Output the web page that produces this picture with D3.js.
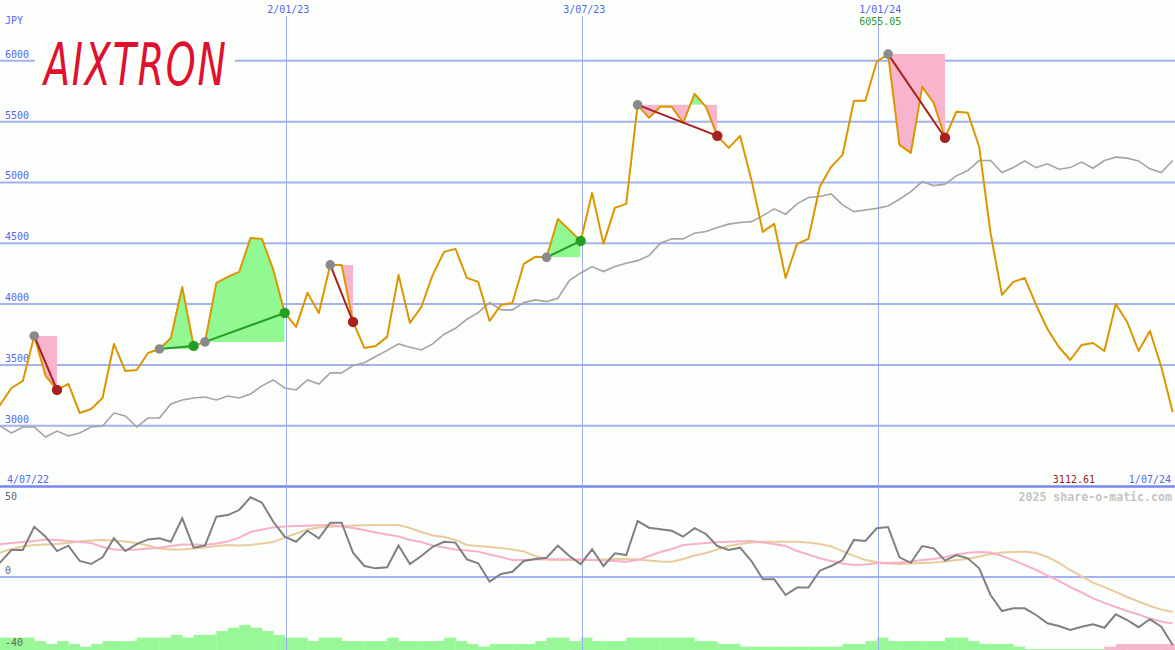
<!DOCTYPE html>
<html><head><meta charset="utf-8">
<script src="https://cdn.jsdelivr.net/npm/d3@7"></script>
<style>html,body{margin:0;padding:0;background:#fcfefc;}svg{display:block}</style>
</head><body><svg id="c" width="1175" height="650"></svg>
<script>
// ---------- data ----------
const firstWeek = "2022-07-03";
const price = [3047,3170,3310,3368,3738,3409,3294,3343,3104,3137,
  3228,3672,3450,3458,3598,3631,3721,4141,3656,3689,
  4174,4223,4264,4544,4536,4281,3927,3812,4092,3927,
  4322,4322,3853,3639,3656,3730,4240,3845,3976,4240,
  4429,4454,4215,4182,3861,3993,4009,4330,4388,4384,
  4700,4610,4519,4914,4495,4791,4824,5638,5531,5622,
  5622,5490,5729,5622,5383,5284,5383,5021,4593,4659,
  4215,4495,4536,4964,5128,5227,5671,5671,5992,6055.05,
  5309,5243,5786,5655,5367,5581,5572,5293,4585,4075,
  4182,4215,3993,3795,3647,3540,3664,3680,3614,4001,
  3853,3614,3779,3483,3112.61];
const movingAvg = [3014,2998,2940,2989,2989,2907,2956,2915,2940,2989,
  2998,3104,3080,2989,3063,3063,3179,3211,3228,3236,
  3211,3244,3228,3261,3327,3376,3310,3294,3376,3343,
  3434,3434,3495,3518,3569,3619,3672,3645,3623,3672,
  3752,3801,3875,3930,4012,3952,3952,4012,4034,4020,
  4048,4193,4256,4308,4267,4308,4336,4357,4398,4500,
  4536,4536,4583,4596,4629,4657,4670,4678,4727,4783,
  4739,4824,4876,4884,4906,4815,4760,4774,4787,4807,
  4862,4925,5007,4974,4986,5054,5098,5180,5180,5081,
  5122,5177,5122,5153,5109,5122,5167,5117,5180,5208,
  5200,5177,5112,5081,5180];
const oscillator = [4,8.0,15.0,15.0,27.9,22.4,14.4,17.4,8.9,7.2,
  10.9,21.5,14.4,18.3,20.9,21.5,19.6,32.6,16.3,17.4,
  33.5,34.4,37.2,44.3,41.3,30.7,22.4,19.6,25.7,21.5,
  30.2,30.2,13.5,6.1,4.8,5.4,17.5,7.2,11.7,16.8,
  19.6,19.1,9.8,7.6,-2.6,1.7,2.9,8.9,10.0,10.7,
  17.4,11.7,7.2,15.4,6.1,13.2,12.2,31.1,27.4,26.5,
  25.7,22.4,27.1,23.9,17.2,15.0,16.3,8.9,-1.3,-1.3,
  -10.0,-5.9,-5.9,3.5,6.1,9.4,20.6,20.0,27.1,27.8,
  10.9,7.9,17.2,15.9,9.1,12.2,10.4,4.8,-10.0,-18.9,
  -17.4,-17.4,-21.1,-25.7,-27.2,-29.4,-27.6,-26.3,-28.2,-20.7,
  -23.9,-27.9,-23.5,-27.6,-37.8];
const oscFast = [17.8,18.2,18.9,19.4,20.0,20.8,20.6,20.0,19.4,18.9,
  16.7,15.3,15.0,15.3,15.8,16.3,17.2,18.1,18.1,17.8,
  18.6,19.7,21.9,25.0,26.4,27.5,28.1,28.3,28.5,28.7,
  28.9,28.1,27.2,26.1,24.7,23.6,22.5,20.6,19.4,17.5,
  16.4,15.3,14.7,14.1,12.5,11.1,9.4,9.4,9.7,9.8,
  9.8,9.8,9.8,9.4,9.2,8.9,8.5,9.4,11.7,13.9,
  15.6,17.8,18.3,18.9,19.3,19.6,19.8,20.0,19.2,18.3,
  17.2,14.4,12.5,10.4,8.9,7.5,6.7,6.9,7.6,7.8,
  8.0,8.6,9.4,10.0,11.1,12.5,13.5,13.9,13.6,11.7,
  9.2,6.7,3.9,0.8,-2.2,-5.6,-8.6,-11.9,-14.4,-16.7,
  -18.9,-20.8,-23.1,-24.7,-25.8];
const oscSlow = [11.7,13.5,15.6,17.0,17.8,18.1,18.3,18.9,19.7,20.3,
  20.6,20.3,19.7,18.9,17.5,15.8,15.3,15.3,15.8,16.4,
  17.2,17.8,17.5,17.8,18.6,19.4,21.9,24.2,26.4,27.5,
  27.9,28.3,28.6,28.8,28.9,28.9,28.9,27.2,25.0,23.1,
  22.2,20.6,17.8,17.2,16.7,16.1,15.3,14.2,11.7,9.7,
  9.4,9.4,9.4,9.4,9.7,10.0,10.0,9.7,9.2,8.6,
  8.5,10.0,11.9,13.3,15.3,17.2,18.3,19.2,19.6,19.6,
  19.6,19.6,19.2,18.3,17.0,14.4,11.7,9.4,8.3,7.5,
  7.2,7.5,7.8,8.1,8.6,9.4,10.0,11.4,12.8,13.6,
  13.9,14.1,13.3,11.1,7.8,3.9,0.3,-3.1,-5.6,-8.3,
  -11.1,-13.6,-16.1,-18.1,-19.4];
const trendBars = [4.4,6.3,6.3,6.3,4.4,2.8,4.4,2.8,1.3,2.8,
  4.4,4.4,4.4,6.3,6.3,6.3,7.8,6.3,7.8,7.8,
  10,11.8,13.3,11.8,10,7.8,6.3,6.3,4.4,6.3,
  6.3,4.4,4.4,4.4,4.4,6.3,4.4,4.4,4.4,4.4,
  6.3,4.4,2.8,1.3,2.8,2.8,2.8,2.8,4.4,6.3,
  6.3,4.4,6.3,4.4,4.4,4.4,6.3,6.3,6.3,6.3,
  6.3,6.3,4.4,4.4,2.8,2.8,1.3,1.3,1.3,1.3,
  1.3,1.3,1.3,1.3,1.3,2.8,2.8,4.4,6.3,4.4,
  4.4,4.4,4.4,4.4,6.3,6.3,4.4,2.8,2.8,2.8,
  1.3,0,0,0,0,0,0,0,-1.3,-2.8,
  -2.8,-2.8,-2.8,-2.8,-2.8];
const signalStart = [4,15,19,30,49,57,79];
const signalEnd   = [6,18,26,32,52,64,84];
const priceTicks = [3000,3500,4000,4500,5000,5500,6000];
const lowerTicks = [50,0,-40];
const dateLines = ["2023-01-02","2023-07-03","2024-01-01"];
const dateLineLabels = ["2/01/23","3/07/23","1/01/24"];
const rangeLabels = ["4/07/22","1/07/24"];
const currency = "JPY";
const maxLabel = "6055.05";
const lastLabel = "3112.61";
const logoText = "AIXTRON";
const credit = "2025 share-o-matic.com";

// ---------- scales ----------
const W = 1175, H = 650;
const parse = d3.utcParse("%Y-%m-%d");
const t0 = parse(firstWeek);
const dates = price.map((_, i) => d3.utcDay.offset(t0, 7 * i));
const x = d3.scaleUtc().domain([t0, dates[dates.length - 1]]).range([-11.3, 1172.7]);
const yP = d3.scaleLinear().domain([2500, 6500]).range([486.5, 0]);
const yL = d3.scaleLinear().domain([-40, 50]).range([649, 487]);
const step = x(dates[1]) - x(dates[0]);

const BG = "#fcfefc", GRID = "#a4b2f2", BLUE = "#5566ee", MONO = "'DejaVu Sans Mono', 'Liberation Mono', monospace";
const svg = d3.select("#c");
svg.append("rect").attr("width", W).attr("height", H).attr("fill", BG);
const defs = svg.append("defs");

// ---------- lower panel ----------
svg.append("g").selectAll("rect").data(trendBars).join("rect")
  .attr("x", (d, i) => x(dates[i]))
  .attr("width", step + 0.3)
  .attr("y", d => yL(-40 + Math.abs(d)))
  .attr("height", d => H - yL(-40 + Math.abs(d)))
  .attr("fill", d => d >= 0 ? "#98f898" : "#f8b6cc");

svg.append("line").attr("x1", 0).attr("x2", W).attr("y1", yL(0)).attr("y2", yL(0))
  .attr("stroke", GRID).attr("stroke-width", 2);

// ---------- gridlines ----------
svg.append("g").selectAll("line").data(priceTicks).join("line")
  .attr("x1", 0).attr("x2", W).attr("y1", d => yP(d)).attr("y2", d => yP(d))
  .attr("stroke", GRID).attr("stroke-width", 2);
svg.append("line").attr("x1", 0).attr("x2", W).attr("y1", yP(2500)).attr("y2", yP(2500))
  .attr("stroke", "#7886ee").attr("stroke-width", 2.5);

svg.append("g").selectAll("line").data(dateLines).join("line")
  .attr("x1", d => Math.round(x(parse(d))) + 0.5).attr("x2", d => Math.round(x(parse(d))) + 0.5)
  .attr("y1", 16).attr("y2", H)
  .attr("stroke", "#a0acf2").attr("stroke-width", 1);

// labels
const txt = svg.append("g").attr("font-family", MONO).attr("font-size", 10);
txt.selectAll("text.pt").data(priceTicks).join("text").attr("class", "pt")
  .attr("x", 5).attr("y", d => yP(d) - 3).attr("fill", BLUE).text(d => d);
txt.append("text").attr("x", 5).attr("y", 24).attr("fill", BLUE).text(currency);
txt.selectAll("text.dl").data(dateLines).join("text").attr("class", "dl")
  .attr("x", d => x(parse(d)) + 2).attr("y", 13).attr("text-anchor", "middle")
  .attr("fill", BLUE).text((d, i) => dateLineLabels[i]);
txt.append("text").attr("x", x(parse(dateLines[2])) + 2).attr("y", 25).attr("text-anchor", "middle")
  .attr("fill", "#2a9a2a").text(maxLabel);
txt.append("text").attr("x", 7).attr("y", 483).attr("fill", BLUE).text(rangeLabels[0]);
txt.append("text").attr("x", 1171).attr("y", 483).attr("text-anchor", "end").attr("fill", BLUE).text(rangeLabels[1]);
txt.append("text").attr("x", 1095).attr("y", 483).attr("text-anchor", "end").attr("fill", "#a01818").text(lastLabel);
txt.selectAll("text.lt").data(lowerTicks).join("text").attr("class", "lt")
  .attr("x", 5).attr("y", d => d === 50 ? yL(d) + 13 : yL(d) - 3).attr("fill", "#666").text(d => d);
svg.append("text").attr("x", 1172).attr("y", 501).attr("text-anchor", "end")
  .attr("font-family", MONO).attr("font-size", 11.6).attr("font-weight", "bold")
  .attr("fill", "#c4c4c4").text(credit);

// lower panel lines
const lineL = arr => d3.line().x((d, i) => x(dates[i])).y(d => yL(d))(arr);
svg.append("path").attr("d", lineL(oscSlow)).attr("fill", "none").attr("stroke", "#e8cc9c").attr("stroke-width", 2);
svg.append("path").attr("d", lineL(oscFast)).attr("fill", "none").attr("stroke", "#f8b0c8").attr("stroke-width", 2);
svg.append("path").attr("d", lineL(oscillator)).attr("fill", "none").attr("stroke", "#808080").attr("stroke-width", 2);

// ---------- main panel ----------
const lineP = d3.line().x((d, i) => x(dates[i])).y(d => yP(d));
svg.append("path").attr("d", lineP(movingAvg)).attr("fill", "none").attr("stroke", "#a4a4a4").attr("stroke-width", 1.6);

signalStart.forEach((s, k) => {
  const e = signalEnd[k];
  const lvl = price[s];
  const pts = d3.range(s, e + 1);
  const area = d3.area().x(i => x(dates[i])).y0(yP(lvl)).y1(i => yP(price[i]))(pts);
  const x0 = x(dates[s]), x1 = x(dates[e]);
  defs.append("clipPath").attr("id", "up" + k).append("rect")
    .attr("x", x0).attr("width", x1 - x0).attr("y", 0).attr("height", yP(lvl));
  defs.append("clipPath").attr("id", "dn" + k).append("rect")
    .attr("x", x0).attr("width", x1 - x0).attr("y", yP(lvl)).attr("height", H);
  svg.append("path").attr("d", area).attr("fill", "#92f892").attr("clip-path", `url(#up${k})`);
  svg.append("path").attr("d", area).attr("fill", "#f8b4cc").attr("clip-path", `url(#dn${k})`);
});

svg.append("path").attr("d", lineP(price)).attr("fill", "none").attr("stroke", "#dd9500").attr("stroke-width", 2).attr("stroke-linejoin", "round");

signalStart.forEach((s, k) => {
  const e = signalEnd[k];
  const up = price[e] >= price[s];
  const col = up ? "#23a023" : "#a82020";
  svg.append("line").attr("x1", x(dates[s])).attr("y1", yP(price[s]))
    .attr("x2", x(dates[e])).attr("y2", yP(price[e])).attr("stroke", col).attr("stroke-width", 2);
  svg.append("circle").attr("cx", x(dates[s])).attr("cy", yP(price[s])).attr("r", 4.8).attr("fill", "#8a8a8a");
  svg.append("circle").attr("cx", x(dates[e])).attr("cy", yP(price[e])).attr("r", 5.2).attr("fill", col);
});

// ---------- logo ----------
svg.append("rect").attr("x", 35).attr("y", 36).attr("width", 200).attr("height", 54).attr("fill", BG);
svg.append("text").attr("transform", "translate(44,85) scale(1,1.55)")
  .attr("font-family", "'DejaVu Sans', sans-serif").attr("font-style", "italic")
  .attr("font-size", 38).attr("textLength", 182).attr("lengthAdjust", "spacing")
  .attr("fill", "#e0102e").text(logoText);
</script></body></html>
